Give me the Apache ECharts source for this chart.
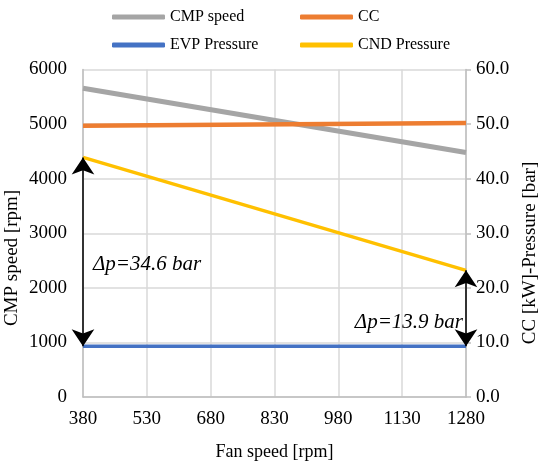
<!DOCTYPE html>
<html>
<head>
<meta charset="utf-8">
<script src="https://cdn.jsdelivr.net/npm/echarts@6/dist/echarts.min.js"></script>
<style>
  html, body { margin: 0; padding: 0; background: #fff; }
  #chart { width: 540px; height: 461px; }
</style>
</head>
<body>
<div id="chart"></div>
<script>
// Fan speed sweep (rpm) and the measured end points of each trend
const fanSpeed = [380, 1280];
const cmpSpeed = [5655, 4480];      // rpm, left axis
const coolingCapacity = [49.7, 50.2]; // kW, right axis
const evpPressure = [9.3, 9.3];     // bar, right axis
const cndPressure = [43.9, 23.2];   // bar, right axis
const xTicks = [380, 530, 680, 830, 980, 1130, 1280];
const deltaLabels = ['\u0394p=34.6 bar', '\u0394p=13.9 bar'];
const leftAxisTitle = 'CMP speed [rpm]';
const rightAxisTitle = 'CC [kW]-Pressure [bar]';

const FONT = 'Liberation Serif';
const pairs = (ys) => fanSpeed.map((x, i) => [x, ys[i]]);
const plain = (v) => String(v);

const chart = echarts.init(document.getElementById('chart'));

const legendBase = {
  itemWidth: 53,
  itemHeight: 5,
  icon: 'roundRect',
  itemGap: 4,
  textStyle: { fontFamily: FONT, fontSize: 16, color: '#000' }
};

chart.setOption({
  animation: false,
  backgroundColor: '#fff',
  legend: [
    Object.assign({}, legendBase, { data: ['CMP speed'], left: 107, top: 4 }),
    Object.assign({}, legendBase, { data: ['CC'], left: 295, top: 4 }),
    Object.assign({}, legendBase, { data: ['EVP Pressure'], left: 107, top: 32 }),
    Object.assign({}, legendBase, { data: ['CND Pressure'], left: 295, top: 32 })
  ],
  grid: { left: 83, right: 74, top: 69.5, bottom: 64, containLabel: false, outerBoundsMode: 'none' },
  xAxis: {
    type: 'value',
    min: xTicks[0],
    max: xTicks[xTicks.length - 1],
    interval: 150,
    name: 'Fan speed [rpm]',
    nameLocation: 'middle',
    nameGap: 46,
    nameTextStyle: { fontFamily: FONT, fontSize: 18, color: '#000' },
    axisLine: { lineStyle: { color: '#bfbfbf', width: 1.5 } },
    axisTick: { show: false },
    axisLabel: { fontFamily: FONT, fontSize: 19, color: '#000', margin: 13, formatter: plain },
    splitLine: { show: true, lineStyle: { color: '#d9d9d9', width: 1.5 } }
  },
  yAxis: [
    {
      type: 'value',
      min: 0, max: 6000, interval: 1000,
      axisLine: { show: true, lineStyle: { color: '#bfbfbf', width: 1.5 } },
      axisTick: { show: false },
      axisLabel: { fontFamily: FONT, fontSize: 19, color: '#000', margin: 16, formatter: plain },
      splitLine: { show: true, lineStyle: { color: '#d9d9d9', width: 1.5 } }
    },
    {
      type: 'value',
      min: 0, max: 60, interval: 10,
      axisLine: { show: true, lineStyle: { color: '#bfbfbf', width: 1.5 } },
      axisTick: { show: true, length: 5, lineStyle: { color: '#bfbfbf', width: 1.5 } },
      axisLabel: {
        fontFamily: FONT, fontSize: 19, color: '#000', margin: 10,
        formatter: (v) => v.toFixed(1)
      },
      splitLine: { show: false }
    }
  ],
  series: [
    {
      name: 'CMP speed', type: 'line', yAxisIndex: 0,
      data: pairs(cmpSpeed), symbol: 'none',
      lineStyle: { color: '#a5a5a5', width: 5 }, itemStyle: { color: '#a5a5a5' }, z: 3
    },
    {
      name: 'CC', type: 'line', yAxisIndex: 1,
      data: pairs(coolingCapacity), symbol: 'none',
      lineStyle: { color: '#ed7d31', width: 4.5 }, itemStyle: { color: '#ed7d31' }, z: 4
    },
    {
      name: 'EVP Pressure', type: 'line', yAxisIndex: 1,
      data: pairs(evpPressure), symbol: 'none',
      lineStyle: { color: '#4472c4', width: 3.5 }, itemStyle: { color: '#4472c4' }, z: 3,
      markLine: {
        silent: true,
        symbol: ['arrow', 'arrow'],
        symbolSize: 17,
        label: { show: false },
        lineStyle: { color: '#000', width: 1.5, type: 'solid' },
        data: fanSpeed.map((x, i) => [
          { coord: [x, cndPressure[i]] },
          { coord: [x, evpPressure[i]] }
        ])
      }
    },
    {
      name: 'CND Pressure', type: 'line', yAxisIndex: 1,
      data: pairs(cndPressure), symbol: 'none',
      lineStyle: { color: '#ffc000', width: 3.5 }, itemStyle: { color: '#ffc000' }, z: 3
    }
  ]
});

// Vertical axis titles and the pressure-difference notes beside the arrows
function placeNotes() {
  const left = chart.convertToPixel({ xAxisIndex: 0, yAxisIndex: 1 }, [fanSpeed[0], 24.2]);
  const right = chart.convertToPixel({ xAxisIndex: 0, yAxisIndex: 1 }, [fanSpeed[1], 13.6]);
  const noteStyle = { fontFamily: FONT, fontSize: 21, fontStyle: 'italic', fill: '#000' };
  const titleStyle = { fontFamily: FONT, fontSize: 19, fill: '#000', align: 'center', verticalAlign: 'middle' };
  chart.setOption({
    graphic: [
      {
        type: 'text', x: 12, y: 258, rotation: Math.PI / 2,
        style: Object.assign({ text: leftAxisTitle }, titleStyle)
      },
      {
        type: 'text', x: 530, y: 253, rotation: Math.PI / 2,
        style: Object.assign({ text: rightAxisTitle }, titleStyle)
      },
      {
        type: 'text', x: left[0] + 10, y: left[1],
        style: Object.assign({ text: deltaLabels[0], align: 'left', verticalAlign: 'middle' }, noteStyle),
        z: 10
      },
      {
        type: 'text', x: right[0] - 3, y: right[1],
        style: Object.assign({ text: deltaLabels[1], align: 'right', verticalAlign: 'middle' }, noteStyle),
        z: 10
      }
    ]
  });
}
placeNotes();
</script>
</body>
</html>
